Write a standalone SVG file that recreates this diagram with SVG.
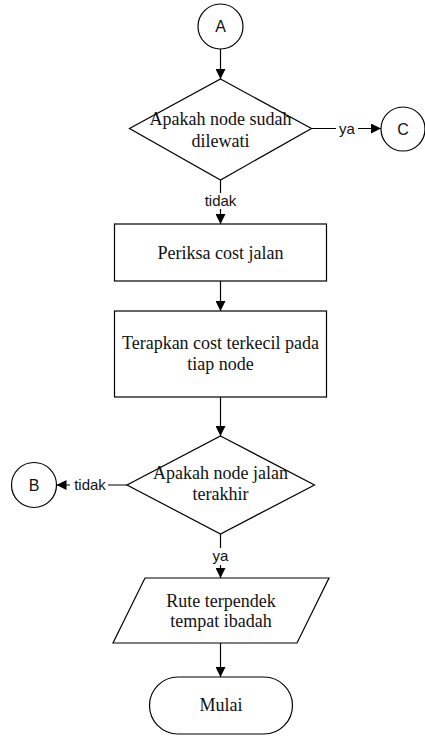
<svg xmlns="http://www.w3.org/2000/svg" width="425" height="740" viewBox="0 0 425 740">
<style>
.shape{fill:#fff;stroke:#000;stroke-width:1.2}
.t{font-family:"Liberation Serif","Times New Roman",serif;font-size:18px;fill:#111;text-anchor:middle}
.s{font-family:"Liberation Sans",Arial,sans-serif;font-size:15px;fill:#111;text-anchor:middle}
.c{font-family:"Liberation Sans",Arial,sans-serif;font-size:16px;fill:#111;text-anchor:middle}
.ln{fill:none;stroke:#000;stroke-width:1.2}
.lb{fill:#fff;stroke:none}
</style>
<defs>
<marker id="ah" markerWidth="10" markerHeight="10" refX="10" refY="5" orient="auto" markerUnits="userSpaceOnUse">
<path d="M0,0 L10,5 L0,10 Z" fill="#000"/>
</marker>
</defs>
<g id="connectors">
<line class="ln" x1="220.5" y1="49" x2="220.5" y2="79" marker-end="url(#ah)"/>
<line class="ln" x1="311.5" y1="128.5" x2="381" y2="128.5" marker-end="url(#ah)"/>
<rect class="lb" x="336" y="120" width="22" height="16"/>
<text class="s" x="347" y="133.5">ya</text>
<line class="ln" x1="220.5" y1="180" x2="220.5" y2="224" marker-end="url(#ah)"/>
<rect class="lb" x="201" y="193" width="39" height="16"/>
<text class="s" x="220.5" y="206">tidak</text>
<line class="ln" x1="220.5" y1="281" x2="220.5" y2="311" marker-end="url(#ah)"/>
<line class="ln" x1="220.5" y1="397" x2="220.5" y2="436" marker-end="url(#ah)"/>
<line class="ln" x1="127" y1="485" x2="56.5" y2="485" marker-end="url(#ah)"/>
<rect class="lb" x="70" y="477" width="38" height="16"/>
<text class="s" x="90" y="490">tidak</text>
<line class="ln" x1="220.5" y1="534" x2="220.5" y2="578" marker-end="url(#ah)"/>
<rect class="lb" x="210" y="548" width="22" height="17"/>
<text class="s" x="220.5" y="561">ya</text>
<line class="ln" x1="220.5" y1="643" x2="220.5" y2="677" marker-end="url(#ah)"/>
</g>
<g id="nodeA">
<circle class="shape" cx="220.5" cy="26.5" r="22.5"/>
<text class="c" x="220.5" y="32">A</text>
</g>
<g id="decision1">
<polygon class="shape" points="220.5,79 311.5,128.5 220.5,180 129.5,128.5"/>
<text class="t" x="220.5" y="125">Apakah node sudah</text>
<text class="t" x="220.5" y="147">dilewati</text>
</g>
<g id="nodeC">
<circle class="shape" cx="403" cy="129" r="22"/>
<text class="c" x="403" y="134.5">C</text>
</g>
<g id="process1">
<rect class="shape" x="114.5" y="224" width="212" height="57"/>
<text class="t" x="220.5" y="259">Periksa cost jalan</text>
</g>
<g id="process2">
<rect class="shape" x="114.5" y="311" width="212" height="86"/>
<text class="t" x="220.5" y="349">Terapkan cost terkecil pada</text>
<text class="t" x="220.5" y="370">tiap node</text>
</g>
<g id="decision2">
<polygon class="shape" points="220.5,436 314.5,485 220.5,534 127,485"/>
<text class="t" x="220.5" y="479">Apakah node jalan</text>
<text class="t" x="220.5" y="500">terakhir</text>
</g>
<g id="nodeB">
<circle class="shape" cx="34" cy="485" r="22.5"/>
<text class="c" x="34" y="490.5">B</text>
</g>
<g id="output">
<polygon class="shape" points="145,578 329,578 297,643 113,643"/>
<text class="t" x="221" y="607">Rute terpendek</text>
<text class="t" x="221" y="627">tempat ibadah</text>
</g>
<g id="terminator">
<rect class="shape" x="149.5" y="677" width="143" height="57" rx="28.5" ry="28.5"/>
<text class="t" x="221" y="711">Mulai</text>
</g>
</svg>
